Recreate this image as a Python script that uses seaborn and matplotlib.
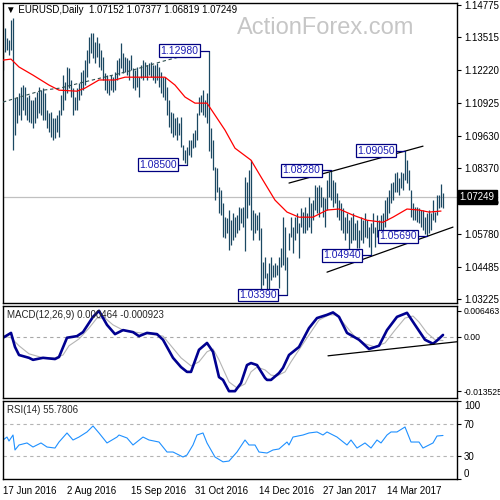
import matplotlib
matplotlib.use("Agg")
import matplotlib.pyplot as plt
import matplotlib.transforms as mtransforms
import numpy as np
import seaborn as sns

sns.set_style("white")
plt.rcParams['font.family'] = ['Liberation Sans', 'DejaVu Sans']

# daily bars, 17 Jun 2016 .. 21 Apr 2017 (bar index 0..220)
highs = [1.1301, 1.1387, 1.1348, 1.1340, 1.1419, 1.1427, 1.1112, 1.1116, 1.1131, 1.1155,
         1.1163, 1.1155, 1.1116, 1.1124, 1.1104, 1.1104, 1.1116, 1.1135, 1.1155, 1.1143,
         1.1151, 1.1131, 1.1065, 1.1053, 1.1057, 1.1034, 1.1034, 1.1045, 1.1065, 1.1124,
         1.1202, 1.1175, 1.1234, 1.1230, 1.1183, 1.1151, 1.1116, 1.1151, 1.1171, 1.1214,
         1.1222, 1.1261, 1.1301, 1.1352, 1.1367, 1.1367, 1.1332, 1.1352, 1.1328, 1.1301,
         1.1273, 1.1210, 1.1202, 1.1183, 1.1202, 1.1194, 1.1214, 1.1261, 1.1269, 1.1328,
         1.1289, 1.1273, 1.1269, 1.1261, 1.1281, 1.1230, 1.1222, 1.1234, 1.1194, 1.1242,
         1.1261, 1.1253, 1.1242, 1.1249, 1.1253, 1.1242, 1.1242, 1.1249, 1.1234, 1.1214,
         1.1194, 1.1194, 1.1155, 1.1104, 1.1057, 1.1053, 1.1034, 1.1038, 1.1014, 1.1038,
         1.0927, 1.0908, 1.0920, 1.0947, 1.0947, 1.0975, 1.0986, 1.1053, 1.1116, 1.1124,
         1.1143, 1.1104, 1.1131, 1.1298, 1.0994, 1.0947, 1.0841, 1.0837, 1.0762, 1.0750,
         1.0699, 1.0644, 1.0640, 1.0672, 1.0632, 1.0660, 1.0644, 1.0652, 1.0683, 1.0680,
         1.0683, 1.0801, 1.0782, 1.0829, 1.0868, 1.0672, 1.0660, 1.0652, 1.0664, 1.0601,
         1.0467, 1.0487, 1.0424, 1.0463, 1.0487, 1.0455, 1.0463, 1.0455, 1.0487, 1.0522,
         1.0644, 1.0605, 1.0487, 1.0581, 1.0644, 1.0605, 1.0644, 1.0660, 1.0621, 1.0680,
         1.0664, 1.0683, 1.0660, 1.0723, 1.0699, 1.0711, 1.0770, 1.0762, 1.0770, 1.0762,
         1.0723, 1.0719, 1.0790, 1.0821, 1.0829, 1.0790, 1.0782, 1.0738, 1.0711, 1.0699,
         1.0680, 1.0644, 1.0660, 1.0632, 1.0644, 1.0660, 1.0621, 1.0632, 1.0593, 1.0644,
         1.0632, 1.0660, 1.0632, 1.0605, 1.0621, 1.0660, 1.0605, 1.0652, 1.0632, 1.0652,
         1.0660, 1.0711, 1.0723, 1.0750, 1.0778, 1.0782, 1.0817, 1.0821, 1.0797, 1.0821,
         1.0817, 1.0905, 1.0868, 1.0829, 1.0750, 1.0699, 1.0683, 1.0683, 1.0680, 1.0672,
         1.0672, 1.0644, 1.0660, 1.0672, 1.0660, 1.0711, 1.0664, 1.0731, 1.0731, 1.0774, 1.07377]
lows = [1.1222, 1.1293, 1.1301, 1.1281, 1.1301, 1.0908, 1.0967, 1.1014, 1.1045, 1.1026,
        1.1065, 1.1045, 1.1026, 1.1018, 1.1014, 1.0994, 1.1014, 1.1034, 1.1053, 1.1045,
        1.1026, 1.1026, 1.0994, 1.0978, 1.0959, 1.0947, 1.0955, 1.0978, 1.0959, 1.1045,
        1.1065, 1.1104, 1.1131, 1.1151, 1.1116, 1.1045, 1.1065, 1.1065, 1.1104, 1.1124,
        1.1143, 1.1163, 1.1194, 1.1249, 1.1289, 1.1269, 1.1249, 1.1273, 1.1234, 1.1222,
        1.1183, 1.1143, 1.1131, 1.1124, 1.1143, 1.1135, 1.1143, 1.1183, 1.1202, 1.1230,
        1.1210, 1.1214, 1.1202, 1.1183, 1.1222, 1.1151, 1.1143, 1.1155, 1.1116, 1.1190,
        1.1183, 1.1194, 1.1183, 1.1202, 1.1194, 1.1183, 1.1171, 1.1183, 1.1155, 1.1131,
        1.1116, 1.1104, 1.1045, 1.0998, 1.0974, 1.0959, 1.0967, 1.0947, 1.0967, 1.0920,
        1.0868, 1.0856, 1.0850, 1.0888, 1.0880, 1.0916, 1.0920, 1.0947, 1.1045, 1.1057,
        1.1045, 1.1038, 1.1014, 1.0904, 1.0876, 1.0829, 1.0711, 1.0742, 1.0660, 1.0652,
        1.0566, 1.0562, 1.0581, 1.0514, 1.0534, 1.0554, 1.0566, 1.0581, 1.0593, 1.0621,
        1.0605, 1.0510, 1.0640, 1.0691, 1.0593, 1.0554, 1.0581, 1.0593, 1.0554, 1.0357,
        1.0377, 1.0404, 1.0346, 1.0357, 1.0396, 1.0408, 1.0408, 1.0416, 1.0365, 1.0448,
        1.0455, 1.0436, 1.0339, 1.0514, 1.0566, 1.0503, 1.0554, 1.0581, 1.0483, 1.0605,
        1.0581, 1.0581, 1.0593, 1.0605, 1.0581, 1.0632, 1.0672, 1.0660, 1.0644, 1.0683,
        1.0644, 1.0605, 1.0672, 1.0723, 1.0711, 1.0683, 1.0699, 1.0644, 1.0632, 1.0593,
        1.0581, 1.0554, 1.0581, 1.0514, 1.0542, 1.0554, 1.0554, 1.0522, 1.0522, 1.0554,
        1.0542, 1.0566, 1.0562, 1.0526, 1.0494, 1.0581, 1.0526, 1.0566, 1.0554, 1.0566,
        1.0581, 1.0605, 1.0632, 1.0660, 1.0699, 1.0711, 1.0742, 1.0742, 1.0731, 1.0758,
        1.0750, 1.0790, 1.0778, 1.0750, 1.0644, 1.0632, 1.0632, 1.0625, 1.0621, 1.0605,
        1.0593, 1.0578, 1.0569, 1.0581, 1.0593, 1.0632, 1.0625, 1.0652, 1.0680, 1.0683, 1.06819]
last_price = 1.07249

# moving average (red)
ma_idx = [0, 4, 8, 15, 23, 28, 37, 41, 48, 56, 61, 70, 81, 86, 91, 96, 102, 106, 111, 116,
          124, 129, 136, 142, 148, 155, 162, 168, 175, 182, 190, 195, 202, 208, 213, 219]
ma_val = [1.1261, 1.1265, 1.1234, 1.1202, 1.1163, 1.1143, 1.1139, 1.1151, 1.1183, 1.1183,
          1.1194, 1.1194, 1.1194, 1.1163, 1.1116, 1.1092, 1.1092, 1.1045, 1.0986, 1.0915,
          1.0868, 1.0802, 1.0711, 1.0664, 1.0644, 1.0644, 1.0672, 1.0676, 1.0652, 1.0632,
          1.0624, 1.0644, 1.0676, 1.0672, 1.0664, 1.0668]

# dashed line on the left
dash_idx = [0, 5, 20, 28.5, 38.5, 48.5, 57, 65, 73.5, 82, 90, 97.5]
dash_val = [1.1096, 1.1108, 1.1143, 1.1151, 1.1171, 1.1190, 1.1206, 1.1222, 1.1242, 1.1261, 1.1277, 1.1289]

# channel lines
upper_idx = [143, 210]
upper_val = [1.0778, 1.0923]
lower_idx = [162, 225]
lower_val = [1.0428, 1.0605]

# swing labels
label_bars = [103, 92, 142, 164, 201, 184, 212]
label_prices = [1.1298, 1.0850, 1.0339, 1.0828, 1.0905, 1.0494, 1.0569]
label_texts = ['1.12980', '1.08500', '1.03390', '1.08280', '1.09050', '1.04940', '1.05690']

# MACD(12,26,9)
macd_idx = [0, 4, 6, 8, 13, 15, 20, 26, 28, 32, 37, 40, 45, 48, 52, 56, 60, 65, 68, 72,
            77, 80, 85, 89, 92, 94, 98, 102, 105, 108, 110, 113, 116, 119, 122, 124, 127, 131, 132, 134,
            138, 140, 143, 148, 153, 157, 162, 165, 168, 172, 178, 183, 188, 192, 197, 202, 206, 211, 215, 217,
            220]
macd_val = [-0.0002, 0.0010, -0.0025, -0.0045, -0.0052, -0.0057, -0.0052, -0.0055, -0.0050, -0.0002,
            0.0002, 0.0012, 0.0050, 0.0065, 0.0030, 0.0007, 0.0017, 0.0012, 0.0002, 0.0010,
            0.0007, -0.0007, -0.0052, -0.0075, -0.0087, -0.0087, -0.0032, -0.0015, -0.0037, -0.0100,
            -0.0107, -0.0135, -0.0135, -0.0115, -0.0070, -0.0065, -0.0070, -0.0102, -0.0107, -0.0107,
            -0.0090, -0.0077, -0.0045, -0.0025, 0.0022, 0.0047, 0.0055, 0.0061, 0.0050, 0.0010,
            -0.0007, -0.0030, -0.0022, 0.0017, 0.0050, 0.0060, 0.0030, -0.0007, -0.0017, -0.0009,
            0.0005]
sig_idx = [0, 4, 8, 13, 20, 26, 30, 33, 38, 43, 47, 51, 55, 60, 66, 73, 80, 84, 89, 94,
           98, 102, 105, 108, 113, 117, 121, 124, 127, 131, 134, 137, 141, 144, 148, 153, 158, 163, 167, 171,
           176, 181, 186, 191, 196, 201, 205, 208, 212, 216, 220]
sig_val = [0.0002, -0.0002, -0.0022, -0.0042, -0.0052, -0.0052, -0.0045, -0.0022, -0.0005, 0.0022,
           0.0047, 0.0047, 0.0030, 0.0017, 0.0012, 0.0007, 0.0002, -0.0022, -0.0052, -0.0072,
           -0.0062, -0.0037, -0.0030, -0.0057, -0.0112, -0.0127, -0.0117, -0.0087, -0.0075, -0.0082,
           -0.0095, -0.0097, -0.0087, -0.0062, -0.0032, 0.0005, 0.0042, 0.0055, 0.0055, 0.0030,
           0.0000, -0.0017, -0.0025, -0.0015, 0.0017, 0.0047, 0.0052, 0.0037, 0.0010, -0.0007,
           -0.0009]
macd_tl_idx = [162.5, 227]
macd_tl_val = [-0.0047, -0.0012]

# RSI(14)
rsi_idx = [0, 2, 3, 5, 6, 8, 12, 15, 19, 22, 26, 28, 32, 35, 38, 42, 45, 48, 52, 57,
           58, 62, 65, 70, 73, 78, 82, 85, 90, 92, 95, 97, 100, 102, 106, 110, 113, 117, 121, 123,
           126, 128, 132, 135, 138, 142, 143, 145, 150, 153, 157, 160, 162, 167, 172, 174, 177, 181, 184, 187,
           189, 192, 194, 197, 201, 204, 208, 210, 213, 215, 217, 220]
rsi_val = [50.0, 53.8, 48.7, 56.4, 37.2, 43.6, 46.2, 41.0, 46.2, 41.0,
           39.7, 47.4, 59.0, 50.0, 53.8, 60.3, 68.0, 59.0, 46.2, 53.8,
           56.4, 52.6, 43.6, 53.8, 50.0, 47.4, 34.6, 34.6, 28.2, 30.8,
           43.6, 56.4, 59.0, 46.2, 28.2, 22.0, 23.0, 34.6, 50.0, 43.6,
           43.6, 34.6, 33.3, 37.2, 38.5, 47.4, 43.6, 53.8, 56.4, 59.0,
           60.3, 56.4, 60.3, 53.8, 43.6, 50.0, 39.7, 46.2, 39.7, 50.0,
           46.2, 56.4, 60.3, 60.3, 66.7, 47.4, 47.4, 39.7, 43.6, 46.2,
           55.1, 55.8]

tick_pos = [0, 32, 64, 96, 128, 160, 192]
tick_labels = ['17 Jun 2016', '2 Aug 2016', '15 Sep 2016', '31 Oct 2016',
               '14 Dec 2016', '27 Jan 2017', '14 Mar 2017']
price_ticks = [1.14775, 1.13515, 1.12220, 1.10925, 1.09630, 1.08370, 1.07075, 1.05780, 1.04485, 1.03225]

fig = plt.figure(figsize=(5, 5), dpi=100)
ax1 = fig.add_axes([0.005, 0.394, 0.909, 0.600])
ax2 = fig.add_axes([0.005, 0.204, 0.909, 0.184])
ax3 = fig.add_axes([0.005, 0.042, 0.909, 0.156])

bar_col = '#1b4862'
navy = '#000080'

# ---- price panel
ax1.axhline(last_price, color='#c0c0c0', lw=0.9, zorder=1)
ax1.vlines(np.arange(len(highs)), lows, highs, color=bar_col, lw=0.9, zorder=2)
sns.lineplot(x=ma_idx, y=ma_val, ax=ax1, color='#ff0000', lw=0.9, zorder=3)
ax1.plot(dash_idx, dash_val, color='#2f4f4f', lw=0.8, dashes=(3, 2.5), zorder=3)
ax1.plot(upper_idx, upper_val, color='black', lw=0.9, zorder=3)
ax1.plot(lower_idx, lower_val, color='black', lw=0.9, zorder=3)

for b, p, t in zip(label_bars, label_prices, label_texts):
    ax1.plot([b - 5, b], [p, p], color=navy, lw=0.9, zorder=4)
    ax1.text(b - 5.3, p, t, ha='right', va='center', fontsize=7.5, color='#1c1cb4',
             bbox=dict(boxstyle='square,pad=0.12', fc='white', ec=navy, lw=0.9), zorder=6)

ax1.text(0.71, 0.915, 'ActionForex.com', transform=ax1.transAxes, ha='center', va='center',
         fontsize=17, color='#c6c6c6', zorder=0)
ax1.text(0.008, 0.992, '\u25bc EURUSD,Daily  1.07152 1.07377 1.06819 1.07249', transform=ax1.transAxes,
         ha='left', va='top', fontsize=7, color='black', zorder=7)

ax1.set_ylim(1.03068, 1.14854)
ax1.yaxis.tick_right()
ax1.set_yticks(price_ticks)
ax1.set_yticklabels([f'{v:.5f}' for v in price_ticks])
ax1.set_xticks([])
trans = mtransforms.blended_transform_factory(ax1.transAxes, ax1.transData)
ax1.text(1.006, last_price, f'{last_price:.5f}', transform=trans, ha='left', va='center',
         fontsize=7, color='white', clip_on=False, zorder=10,
         bbox=dict(boxstyle='square,pad=0.2', fc='black', ec='black'))

# ---- MACD panel
ax2.axhline(0, color='#a8a8a8', lw=0.8, ls=(0, (3, 3)))
sns.lineplot(x=sig_idx, y=sig_val, ax=ax2, color='#b4b4b4', lw=0.8)
sns.lineplot(x=macd_idx, y=macd_val, ax=ax2, color='#000090', lw=1.9)
ax2.plot(macd_tl_idx, macd_tl_val, color='black', lw=0.9)
ax2.set_ylim(-0.0152, 0.0077)
ax2.yaxis.tick_right()
ax2.set_yticks([0.006463, 0.0, -0.013525])
ax2.set_yticklabels(['0.006463', '0.00', '-0.013525'])
ax2.set_xticks([])
ax2.text(0.01, 0.9, 'MACD(12,26,9) 0.000464 -0.000923', transform=ax2.transAxes,
         ha='left', va='center', fontsize=7)

# ---- RSI panel
for lvl in (70, 30):
    ax3.axhline(lvl, color='#b4b4b4', lw=0.8, ls=(0, (3, 3)))
sns.lineplot(x=rsi_idx, y=rsi_val, ax=ax3, color='#1e90ff', lw=0.8)
ax3.set_ylim(0, 100)
ax3.yaxis.tick_right()
ax3.set_yticks([100, 70, 30, 0])
ax3.set_yticklabels(['100', '70', '30', '0'])
rl = ax3.get_yticklabels()
rl[0].set_va('top')
rl[3].set_va('bottom')
ax3.text(0.01, 0.885, 'RSI(14) 55.7806', transform=ax3.transAxes, ha='left', va='center', fontsize=7)
ax3.set_xticks(tick_pos)
ax3.set_xticklabels(tick_labels, ha='left')

for ax in (ax1, ax2, ax3):
    ax.set_xlim(-0.25, 227)
    ax.set_xlabel('')
    ax.set_ylabel('')
    for s in ax.spines.values():
        s.set_color('black')
        s.set_linewidth(1.0)
    ax.tick_params(axis='both', direction='out', length=3, width=0.8, labelsize=7, pad=2,
                   colors='black')

# narrower labels on the MACD scale so they fit at the right edge
ax2.tick_params(axis='y', labelsize=6.2, pad=1.5)

fig.savefig('out.png', dpi=100)
